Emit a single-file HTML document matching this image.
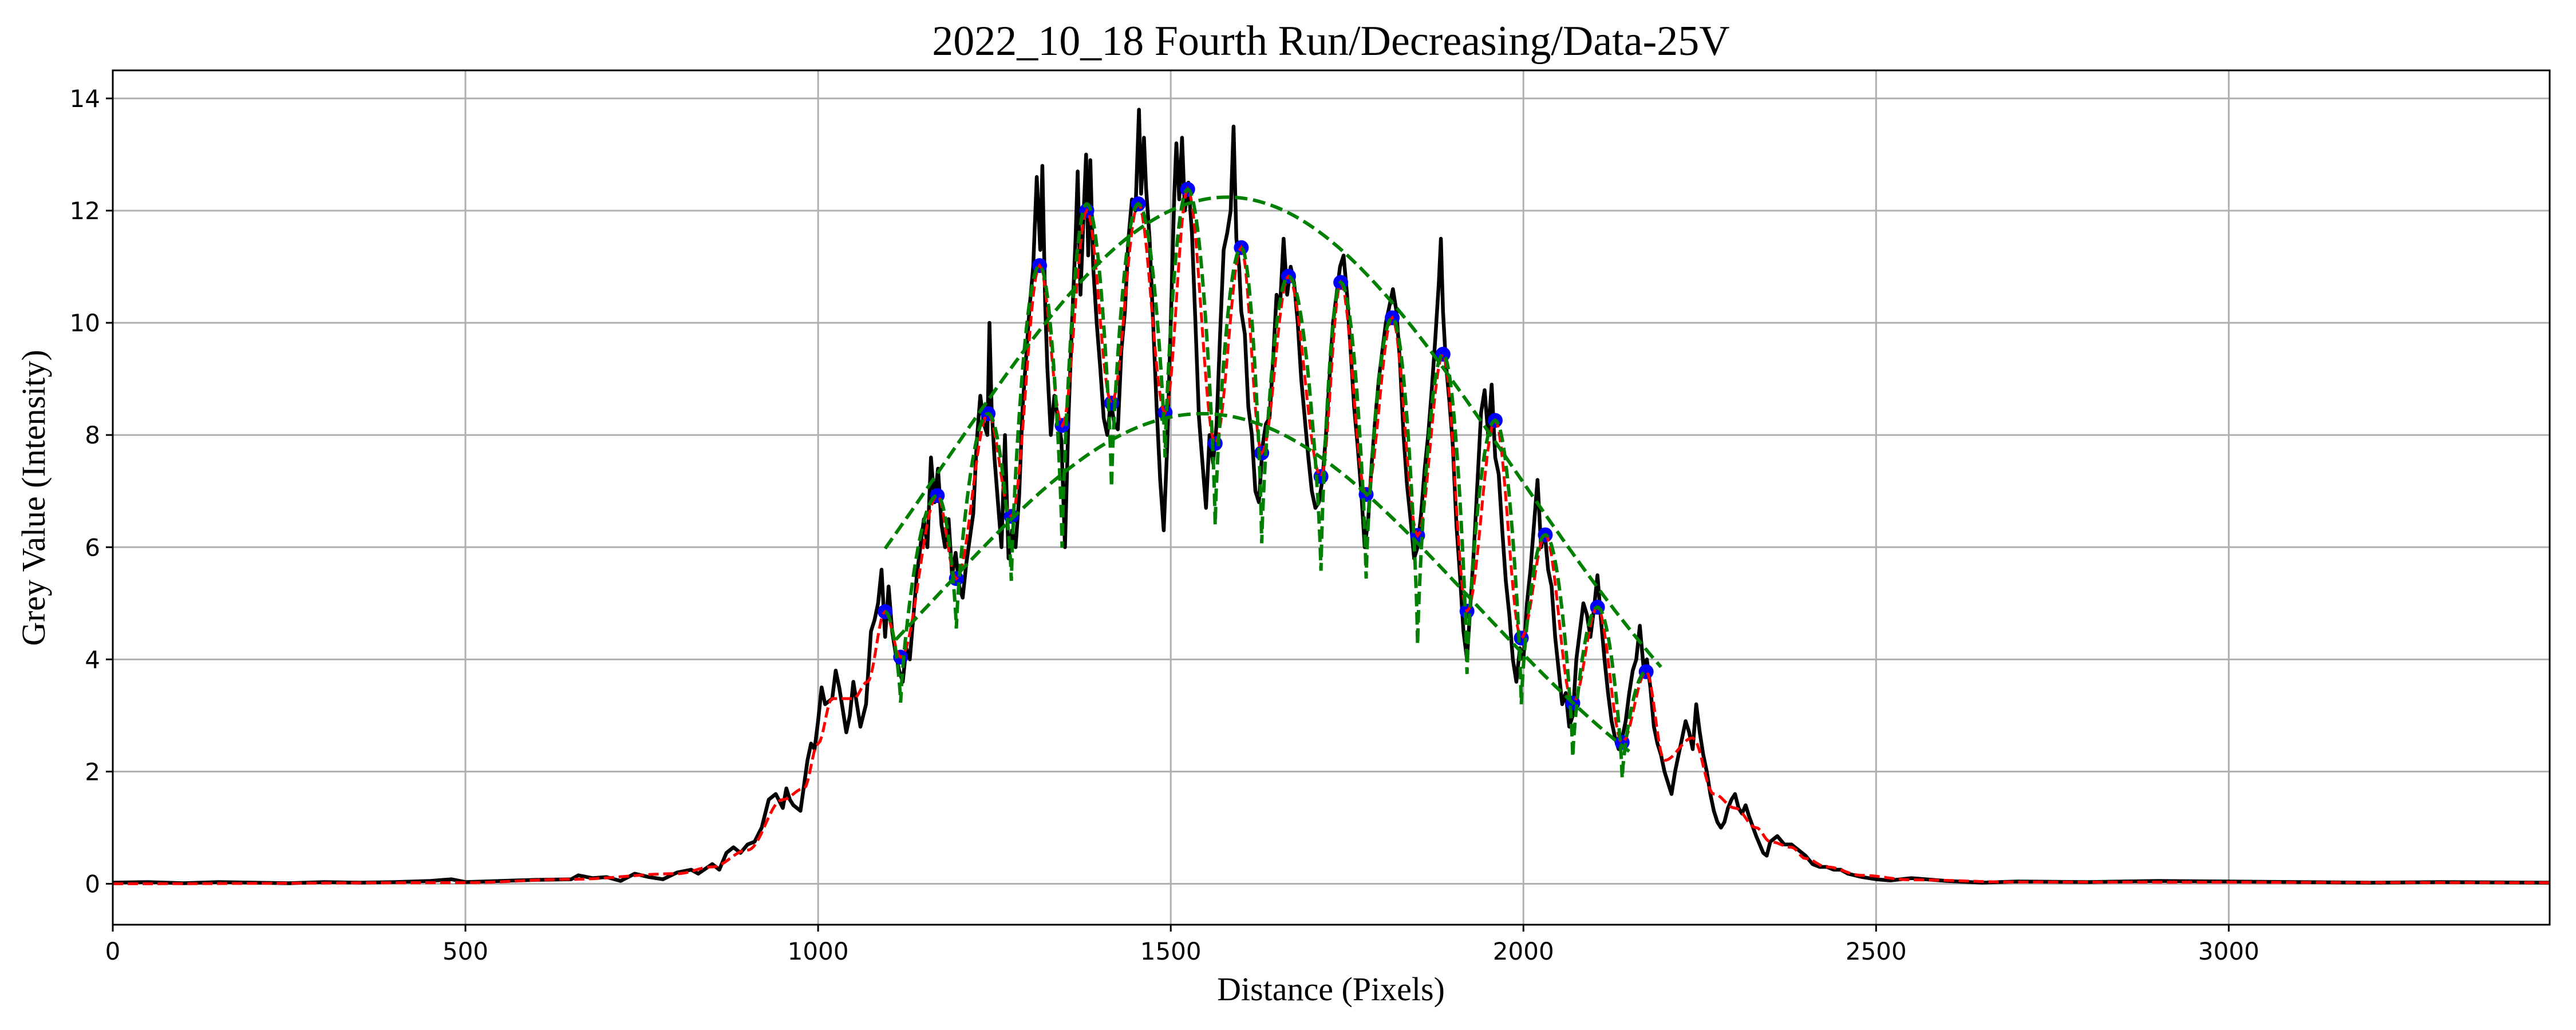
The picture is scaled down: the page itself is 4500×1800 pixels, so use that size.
<!DOCTYPE html>
<html><head><meta charset="utf-8"><style>
html,body{margin:0;padding:0;background:#fff;}
svg{display:block;}
</style></head><body>
<svg id="chart" width="4500" height="1800" viewBox="0 0 4500 1800" xmlns="http://www.w3.org/2000/svg">
<rect width="4500" height="1800" fill="#fff"/>
<text x="2325" y="96" font-family="Liberation Serif, serif" font-size="74" text-anchor="middle">2022_10_18 Fourth Run/Decreasing/Data-25V</text>
<g id="grid"></g>
<g id="series"></g>
<g id="axes"></g>
<text x="2325" y="1748" font-family="Liberation Serif, serif" font-size="58" text-anchor="middle">Distance (Pixels)</text>
<text transform="translate(78,870) rotate(-90)" font-family="Liberation Serif, serif" font-size="58" text-anchor="middle">Grey Value (Intensity)</text>
</svg>
<script>
const xTicks=[0,500,1000,1500,2000,2500,3000];
const yTicks=[0,2,4,6,8,10,12,14];
const blackX=[0,50,100,150,200,250,300,350,400,450,480,500,550,600,650,660,680,700,720,740,760,780,800,820,830,850,860,870,880,890,900,910,920,930,940,950,955,960,965,975,985,990,995,1000,1005,1010,1020,1025,1030,1035,1040,1045,1050,1055,1060,1068,1075,1080,1085,1090,1095,1100,1105,1110,1115,1120,1125,1130,1140,1150,1155,1160,1165,1170,1175,1180,1185,1190,1195,1200,1205,1210,1220,1225,1230,1235,1240,1243,1246,1250,1255,1260,1265,1270,1275,1280,1285,1290,1295,1300,1305,1310,1315,1318,1322,1325,1330,1335,1340,1345,1350,1355,1360,1365,1368,1372,1376,1380,1383,1386,1390,1395,1400,1405,1410,1415,1420,1425,1430,1435,1440,1445,1450,1455,1458,1462,1465,1470,1475,1480,1485,1490,1495,1500,1505,1508,1512,1516,1520,1525,1530,1535,1540,1545,1550,1555,1560,1565,1570,1575,1580,1585,1589,1593,1597,1600,1605,1610,1615,1620,1625,1630,1635,1640,1645,1650,1655,1660,1665,1670,1675,1680,1685,1690,1695,1700,1705,1710,1715,1720,1725,1730,1735,1740,1745,1750,1755,1760,1765,1770,1775,1780,1785,1790,1795,1800,1805,1810,1815,1820,1825,1830,1835,1840,1845,1850,1855,1860,1865,1870,1875,1880,1883,1886,1890,1895,1900,1905,1910,1915,1920,1925,1930,1935,1940,1945,1950,1955,1960,1965,1970,1975,1980,1985,1990,1995,2000,2005,2010,2015,2020,2025,2030,2035,2040,2045,2050,2055,2060,2065,2070,2075,2080,2085,2090,2095,2100,2105,2110,2115,2120,2125,2130,2135,2140,2145,2150,2155,2160,2165,2170,2175,2180,2185,2190,2195,2200,2205,2210,2215,2220,2225,2230,2235,2240,2245,2250,2255,2260,2265,2270,2275,2280,2285,2290,2295,2300,2305,2310,2315,2320,2330,2340,2345,2350,2360,2370,2380,2390,2400,2410,2420,2430,2440,2450,2460,2480,2500,2520,2550,2600,2650,2700,2800,2900,3000,3100,3200,3300,3455];
const blackV=[0.02,0.03,0.01,0.03,0.02,0.01,0.03,0.02,0.03,0.05,0.08,0.03,0.05,0.07,0.08,0.15,0.1,0.12,0.05,0.18,0.12,0.08,0.2,0.25,0.18,0.35,0.25,0.55,0.65,0.55,0.7,0.75,1.0,1.5,1.6,1.35,1.7,1.5,1.4,1.3,2.2,2.5,2.4,2.9,3.5,3.2,3.3,3.8,3.5,3.1,2.7,3.0,3.6,3.2,2.8,3.2,4.5,4.7,5.0,5.6,4.4,5.3,4.5,4.1,3.8,3.6,4.2,4.0,5.5,6.5,6.0,7.6,6.8,7.4,6.4,6.0,6.5,5.5,5.9,5.3,5.1,5.7,6.6,7.9,8.7,8.2,8.0,10.0,8.5,7.6,6.8,6.0,8.0,5.8,6.3,6.0,6.9,8.5,9.4,10.3,11.0,12.6,11.3,12.8,10.3,9.2,8.0,8.7,8.3,7.9,6.0,8.3,10.0,11.5,12.7,10.5,11.8,13.0,11.2,12.9,11.0,10.0,9.2,8.3,8.0,8.6,8.2,8.1,9.5,10.2,11.5,12.2,12.0,13.8,12.3,13.3,12.4,11.5,10.0,8.5,7.2,6.3,7.8,10.0,12.3,13.2,12.2,13.3,12.0,12.5,11.6,10.0,8.3,7.5,6.7,8.0,7.5,8.2,9.8,11.3,11.6,12.0,13.5,11.5,11.0,10.2,9.8,8.5,8.0,7.0,6.8,7.8,8.2,8.3,9.3,10.5,10.3,11.5,10.5,11.0,10.7,10.0,9.0,8.3,7.6,7.0,6.7,6.8,7.2,8.0,9.0,10.0,10.5,11.0,11.2,10.5,9.5,8.5,7.8,7.0,6.0,6.5,7.5,8.3,9.0,9.5,10.0,10.3,10.6,10.2,9.3,8.0,7.1,6.5,5.8,6.0,6.6,7.4,8.0,8.8,9.7,10.7,11.5,10.2,9.3,8.6,7.8,6.4,5.5,4.5,4.0,5.0,6.0,7.2,8.4,8.8,8.0,8.9,7.6,7.3,6.3,5.4,4.8,4.0,3.6,4.2,4.0,5.0,5.6,6.4,7.2,6.0,6.3,5.6,5.3,4.4,3.8,3.2,3.4,2.8,3.0,4.0,4.5,5.0,4.8,4.4,4.9,5.5,4.7,4.0,3.4,2.9,2.6,2.4,2.6,2.9,3.4,3.8,4.0,4.6,3.9,4.0,3.5,2.8,2.5,2.3,2.0,1.8,1.6,2.0,2.3,2.6,2.9,2.7,2.4,3.2,2.7,2.3,2.0,1.6,1.3,1.1,1.0,1.1,1.35,1.5,1.6,1.35,1.25,1.4,1.2,0.85,0.55,0.5,0.75,0.85,0.7,0.7,0.6,0.5,0.35,0.3,0.3,0.25,0.25,0.18,0.12,0.08,0.06,0.1,0.05,0.02,0.04,0.03,0.05,0.04,0.03,0.02,0.03,0.02];
const dotX=[1095,1117,1169,1196,1241,1274,1314,1346,1381,1416,1454,1492,1524,1563,1600,1629,1667,1713,1741,1777,1814,1850,1886,1920,1960,1997,2031,2070,2105,2140,2174];
const dotV=[4.85,4.04,6.92,5.44,8.38,6.55,11.02,8.17,12.0,8.57,12.12,8.4,12.38,7.85,11.34,7.68,10.83,7.26,10.72,6.94,10.09,6.21,9.44,4.86,8.26,4.38,6.22,3.22,4.93,2.52,3.78];
const redPreX=[0,500,650,800,850,900,950,980,1000,1020,1050,1070];
const redPreV=[0.0,0.02,0.08,0.18,0.3,0.6,1.5,1.7,2.5,3.3,3.3,3.6];
const redPostX=[2200,2240,2270,2300,2330,2350,2380,2400,2430,2480,2550,2700,3455];
const redPostV=[2.2,2.6,1.6,1.35,1.0,0.75,0.65,0.45,0.3,0.15,0.07,0.03,0.02];
const fitV=[4.85,3.23,6.92,4.55,8.38,5.4,11.02,5.99,12.12,7.07,12.12,7.6,12.38,6.4,11.34,6.07,10.83,5.58,10.72,5.44,10.09,4.26,9.44,3.74,8.26,3.2,6.22,2.26,4.93,1.88,3.78];
const upperEnv=[12.24,1580,405,1095,2195];
const lowerEnv=[8.38,1545,380,1110,2150];

const L=197,R=4454,T=123,B=1616,XMAX=3455,YMIN=-0.73,YMAX=14.5;
const sx=v=>L+(v/XMAX)*(R-L);
const sy=v=>B-(v-YMIN)/(YMAX-YMIN)*(B-T);
const NS='http://www.w3.org/2000/svg';
function mk(tag,parent,attrs){const e=document.createElementNS(NS,tag);for(const k in attrs)e.setAttribute(k,attrs[k]);parent.appendChild(e);return e;}
const grid=document.getElementById('grid'),axes=document.getElementById('axes'),series=document.getElementById('series');

xTicks.forEach(t=>{
  const g=mk('line',grid,{x1:sx(t),x2:sx(t),y1:T,y2:B,stroke:'#b0b0b0','stroke-width':3});
  
  
  const tk=mk('line',axes,{x1:sx(t),x2:sx(t),y1:B,y2:B+12,stroke:'#000','stroke-width':3});
  
  
  const lb=mk('text',axes,{x:sx(t),y:1677,'font-family':'DejaVu Sans, Liberation Sans, sans-serif','font-size':42,'text-anchor':'middle'});
  lb.textContent=t;
  
  
});
yTicks.forEach(t=>{
  const g=mk('line',grid,{x1:L,x2:R,y1:sy(t),y2:sy(t),stroke:'#b0b0b0','stroke-width':3});
  
  
  const tk=mk('line',axes,{x1:L-12,x2:L,y1:sy(t),y2:sy(t),stroke:'#000','stroke-width':3});
  
  
  const lb=mk('text',axes,{x:L-22,y:sy(t)+15,'font-family':'DejaVu Sans, Liberation Sans, sans-serif','font-size':42,'text-anchor':'end'});
  lb.textContent=t;
  
  
});
const frame=mk('rect',axes,{x:L,y:T,width:R-L,height:B-T,fill:'none',stroke:'#000','stroke-width':3});



function pathFrom(pts){return pts.map((p,i)=>(i?'L':'M')+sx(p[0]).toFixed(1)+' '+sy(p[1]).toFixed(1)).join(' ');}
function cosInterp(xs,vs,step){const pts=[];for(let i=0;i<xs.length-1;i++){const x0=xs[i],x1=xs[i+1];const n=Math.max(2,Math.ceil((x1-x0)/step));for(let j=0;j<n;j++){const t=j/n;const f=(1-Math.cos(Math.PI*t))/2;pts.push([x0+(x1-x0)*t,vs[i]+(vs[i+1]-vs[i])*f]);}}pts.push([xs[xs.length-1],vs[vs.length-1]]);return pts;}

const bl=mk('path',series,{d:pathFrom(blackX.map((x,i)=>[x,blackV[i]])),fill:'none',stroke:'#000','stroke-width':6.5,'stroke-linejoin':'round'});



dotX.forEach((x,i)=>{
  const c=mk('circle',series,{cx:sx(x),cy:sy(dotV[i]),r:13,fill:'#0000ff'});
  
  
});

const rx=redPreX.concat(dotX,redPostX),rv=redPreV.concat(dotV,redPostV);
const rd=mk('path',series,{d:pathFrom(cosInterp(rx,rv,3)),fill:'none',stroke:'#ff0000','stroke-width':5,'stroke-dasharray':'18 8'});



const fp=[];
for(let i=0;i<dotX.length-1;i++){
  const x0=dotX[i],x1=dotX[i+1],v0=fitV[i],v1=fitV[i+1];const n=30;
  for(let j=0;j<n;j++){const t=j/n;let v;
    if(v0<v1){const u=t;v=v0+(v1-v0)*Math.pow(Math.sin(Math.PI/2*u),0.75);}
    else{const u=1-t;v=v1+(v0-v1)*Math.pow(Math.sin(Math.PI/2*u),0.75);}
    fp.push([x0+(x1-x0)*t,v]);}
}
fp.push([dotX[dotX.length-1],fitV[fitV.length-1]]);
const gf=mk('path',series,{d:pathFrom(fp),fill:'none',stroke:'#008000','stroke-width':6,'stroke-dasharray':'22 10'});



function envPts(e){const [A,mu,s,x0,x1]=e;const p=[];for(let x=x0;x<=x1;x+=5)p.push([x,A*Math.exp(-((x-mu)**2)/(2*s*s))]);return p;}
const ue=mk('path',series,{d:pathFrom(envPts(upperEnv)),fill:'none',stroke:'#008000','stroke-width':6,'stroke-dasharray':'22 10'});


const le=mk('path',series,{d:pathFrom(envPts(lowerEnv)),fill:'none',stroke:'#008000','stroke-width':6,'stroke-dasharray':'22 10'});


</script>
</body></html>
